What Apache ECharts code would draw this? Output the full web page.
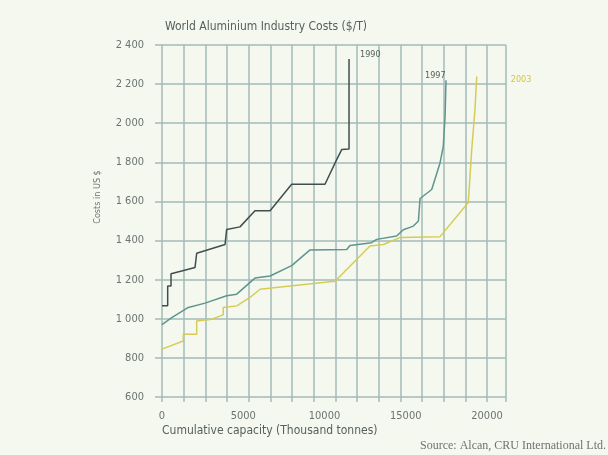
<!DOCTYPE html>
<html>
<head>
<meta charset="utf-8">
<script src="https://cdn.jsdelivr.net/npm/echarts@6/dist/echarts.min.js"></script>
<style>
  html, body { margin: 0; padding: 0; background: #f4f8ee; }
  #chart { width: 608px; height: 455px; }
</style>
</head>
<body>
<div id="chart"></div>
<script>
// cumulative capacity (thousand tonnes) and cost (US$/t)
var cap1990 = [0, 350, 350, 555, 555, 1210, 2030, 2135, 3880, 3980, 4800, 5720, 6650, 7980, 10030, 10750, 11060, 11510, 11510];
var cost1990 = [1066, 1066, 1168, 1168, 1230, 1244, 1262, 1335, 1380, 1457, 1470, 1552, 1552, 1688, 1688, 1814, 1865, 1868, 2328];

var cap1997 = [0, 600, 1620, 2650, 3980, 4600, 5720, 6650, 7980, 9110, 11370, 11570, 12900, 13210, 14440, 14850, 15470, 15780, 15880, 16600, 17110, 17310, 17420, 17480];
var cost1997 = [970, 1006, 1058, 1080, 1118, 1126, 1208, 1219, 1272, 1352, 1354, 1375, 1389, 1406, 1423, 1455, 1474, 1500, 1615, 1661, 1797, 1882, 2035, 2220];

var cap2003 = [0, 1310, 1310, 2135, 2135, 3060, 3770, 3770, 4600, 5415, 6030, 7880, 10650, 12800, 13620, 14650, 17110, 18850, 19060, 19260, 19370];
var cost2003 = [845, 886, 921, 921, 989, 998, 1020, 1058, 1066, 1109, 1151, 1168, 1192, 1372, 1380, 1415, 1420, 1595, 1865, 2069, 2239];

var xLabels = [0, 5000, 10000, 15000, 20000];

function pairs(xs, ys) {
  return xs.map(function (x, i) { return [x, ys[i]]; });
}

var narrow = "'Liberation Sans Narrow', 'DejaVu Sans Condensed', 'Liberation Sans', sans-serif";
var gridColor = '#a3bbb8';

var chart = echarts.init(document.getElementById('chart'));

chart.setOption({
  backgroundColor: '#f4f8ee',
  animation: false,
  title: {
    text: 'World Aluminium Industry Costs ($/T)',
    left: 160,
    top: 16,
    textStyle: { fontFamily: narrow, fontSize: 12, fontWeight: 'normal', color: '#56605e' }
  },
  grid: { left: 162, right: 102, top: 45, bottom: 58 },
  xAxis: {
    type: 'value',
    min: 0,
    max: 21170,
    interval: 20000 / 15,
    axisLine: { show: false },
    axisTick: { show: true, length: 5, lineStyle: { color: gridColor, width: 1.5 } },
    splitLine: { show: true, lineStyle: { color: gridColor, width: 1.5 } },
    axisLabel: {
      customValues: xLabels,
      margin: 14,
      fontFamily: narrow,
      fontSize: 11,
      color: '#6c7472',
      formatter: function (v) { return String(v); }
    },
    name: 'Cumulative capacity (Thousand tonnes)',
    nameLocation: 'start',
    nameGap: 0,
    nameTextStyle: {
      fontFamily: narrow, fontSize: 12, color: '#56605e',
      align: 'left', verticalAlign: 'top', padding: [28, 0, 0, 0]
    }
  },
  yAxis: {
    type: 'value',
    min: 600,
    max: 2400,
    interval: 200,
    axisLine: { show: false },
    axisTick: { show: true, length: 7, lineStyle: { color: gridColor, width: 1.5 } },
    splitLine: { show: true, lineStyle: { color: gridColor, width: 1.5 } },
    axisLabel: {
      margin: 18,
      fontFamily: narrow,
      fontSize: 11,
      color: '#6c7472',
      formatter: function (v) {
        return v >= 1000 ? Math.floor(v / 1000) + ' ' + String(v % 1000).padStart(3, '0') : String(v);
      }
    }
  },
  graphic: [
    {
      type: 'text',
      x: 98,
      y: 197,
      rotation: Math.PI / 2,
      style: {
        text: 'Costs in US $',
        fontFamily: narrow,
        fontSize: 9,
        fill: '#6c7472',
        align: 'center',
        verticalAlign: 'middle'
      }
    },
    {
      type: 'text',
      right: 2,
      top: 440,
      style: {
        text: 'Source: Alcan, CRU International Ltd.',
        fontFamily: "'Liberation Serif', 'DejaVu Serif', serif",
        fontSize: 12,
        fill: '#6c7472'
      }
    }
  ],
  series: [
    {
      name: '1990',
      type: 'line',
      data: pairs(cap1990, cost1990),
      showSymbol: false,
      lineStyle: { color: '#3f4f50', width: 1.5 },
      endLabel: {
        show: true, formatter: '1990', distance: 8, offset: [3, -4],
        fontFamily: narrow, fontSize: 9, color: '#56605e'
      }
    },
    {
      name: '1997',
      type: 'line',
      data: pairs(cap1997, cost1997),
      showSymbol: false,
      lineStyle: { color: '#5e958f', width: 1.5 },
      endLabel: {
        show: true, formatter: '1997', distance: 8, offset: [-29, -5],
        fontFamily: narrow, fontSize: 9, color: '#56605e'
      }
    },
    {
      name: '2003',
      type: 'line',
      data: pairs(cap2003, cost2003),
      showSymbol: false,
      lineStyle: { color: '#d6cc55', width: 1.5 },
      endLabel: {
        show: true, formatter: '2003', distance: 8, offset: [26, 3],
        fontFamily: narrow, fontSize: 9, color: '#d2c64a'
      }
    }
  ]
});
</script>
</body>
</html>
